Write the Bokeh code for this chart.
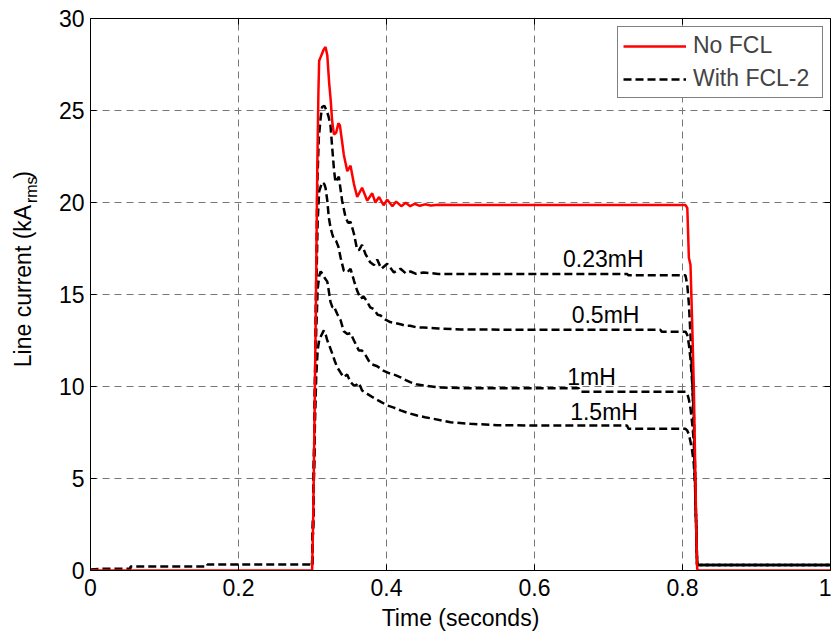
import math
from bokeh.plotting import figure
from bokeh.layouts import row
from bokeh.models import (Range1d, LinearAxis, FixedTicker, Legend, LegendItem,
                          CustomJSTickFormatter, ColumnDataSource)
from bokeh.core.properties import value
from bokeh.embed import file_html
from bokeh.resources import INLINE

# ---------------- data ----------------
t_nofcl = [0, 0.2995, 0.3010, 0.3030, 0.3050, 0.3065, 0.3080, 0.3090, 0.3110, 0.3130, 0.3150,
           0.3176, 0.3200, 0.3225, 0.3245, 0.3266, 0.3290, 0.3320, 0.3350, 0.3370, 0.3400,
           0.3423, 0.3470, 0.3514, 0.3560, 0.3604, 0.3670, 0.3740, 0.3807, 0.3850, 0.3900,
           0.3960, 0.4010, 0.4080, 0.4130, 0.4200, 0.4260, 0.4320, 0.4380, 0.4450, 0.4520,
           0.4600, 0.4700, 0.5000, 0.6000, 0.7000, 0.8041, 0.8065, 0.8086, 0.8108, 0.8131,
           0.8153, 0.8170, 0.8185, 0.8198, 0.8210, 1.0]
i_nofcl = [0, 0, 3, 9, 16, 22, 26.0, 27.7, 27.9, 28.1, 28.3,
           28.45, 28.0, 26.5, 25.6, 24.4, 23.7, 23.8, 24.3, 24.2, 23.3,
           22.6, 21.7, 22.0, 21.0, 20.3, 20.8, 20.1, 20.5, 20.0, 20.3,
           19.85, 20.15, 19.8, 20.05, 19.8, 19.98, 19.8, 19.93, 19.82, 19.9,
           19.84, 19.88, 19.86, 19.86, 19.86, 19.86, 19.7, 17.0, 16.6, 13.4,
           10.0, 6.0, 2.5, 0.1, 0, 0]

t_pre = [0, 0.02, 0.054, 0.054, 0.158, 0.158, 0.2995]
i_pre = [0.05, 0.1, 0.1, 0.22, 0.22, 0.33, 0.33]

t_023 = [0.2995, 0.3010, 0.3030, 0.3050, 0.3065, 0.3085, 0.3110, 0.3130, 0.3160, 0.3190,
         0.3215, 0.3243, 0.3266, 0.3290, 0.3310, 0.3356, 0.3400, 0.3446, 0.3480, 0.3514,
         0.3560, 0.3600, 0.3626, 0.3670, 0.3716, 0.3780, 0.3830, 0.3874, 0.3930, 0.4010,
         0.4100, 0.4190, 0.4260, 0.4324, 0.4400, 0.4500, 0.4700, 0.5000, 0.6000, 0.7250,
         0.7270, 0.8041, 0.8065, 0.8086, 0.8108, 0.8131, 0.8153, 0.8170, 0.8185, 0.8198, 1.0]
i_023 = [0.33, 3, 9, 16, 21, 23.5, 24.6, 25.2, 25.25, 25.0,
         24.7, 24.2, 23.0, 21.8, 21.1, 21.4, 20.1, 19.2, 18.9, 18.95,
         18.3, 17.5, 17.4, 17.7, 17.2, 16.75, 16.6, 16.9, 16.4, 16.67,
         16.2, 16.4, 16.15, 16.25, 16.12, 16.2, 16.12, 16.12, 16.12, 16.12,
         16.04, 16.04, 15.5, 14.5, 12.8, 10.5, 7.5, 4.8, 2.2, 0.3, 0.3]

t_05 = [0.2995, 0.3010, 0.3030, 0.3050, 0.3070, 0.3090, 0.3130, 0.3160, 0.3176, 0.3200,
        0.3220, 0.3245, 0.3266, 0.3290, 0.3320, 0.3350, 0.3380, 0.3423, 0.3470, 0.3514,
        0.3560, 0.3604, 0.3650, 0.3690, 0.3740, 0.3780, 0.3830, 0.3880, 0.3920, 0.3980,
        0.4050, 0.4120, 0.4190, 0.4260, 0.4320, 0.4400, 0.4500, 0.4700, 0.5000, 0.6000,
        0.7700, 0.7720, 0.8041, 0.8065, 0.8086, 0.8108, 0.8131, 0.8153, 0.8170, 0.8185,
        0.8198, 1.0]
i_05 = [0.33, 3, 9, 15, 19, 20.6, 21.1, 21.0, 20.8, 20.1,
        19.2, 18.6, 18.3, 18.0, 17.9, 17.6, 17.0, 16.3, 16.2, 16.4,
        15.76, 15.2, 14.77, 14.9, 14.6, 14.3, 14.2, 13.9, 13.86, 13.65,
        13.5, 13.45, 13.38, 13.3, 13.3, 13.22, 13.2, 13.15, 13.1, 13.08,
        13.08, 12.98, 12.98, 12.8, 12.3, 11.5, 10.2, 8.5, 5.5, 2.6,
        0.3, 0.3]

t_1 = [0.2995, 0.3010, 0.3030, 0.3050, 0.3070, 0.3090, 0.3110, 0.3140, 0.3165, 0.3200,
       0.3220, 0.3243, 0.3270, 0.3290, 0.3333, 0.3380, 0.3423, 0.3470, 0.3514, 0.3560,
       0.3626, 0.3670, 0.3716, 0.3760, 0.3807, 0.3874, 0.3964, 0.4050, 0.4120, 0.4190,
       0.4260, 0.4320, 0.4400, 0.4500, 0.4730, 0.5135, 0.6600, 0.6620, 0.8041, 0.8065,
       0.8086, 0.8108, 0.8131, 0.8153, 0.8170, 0.8185, 0.8198, 1.0]
i_1 = [0.33, 3, 8.5, 13, 15.3, 16.0, 16.25, 16.1, 15.9, 15.7,
       15.2, 14.6, 14.3, 14.35, 13.95, 13.6, 13.0, 12.85, 12.9, 12.5,
       11.96, 11.95, 11.7, 11.4, 11.2, 11.1, 10.85, 10.7, 10.62, 10.5,
       10.35, 10.24, 10.12, 10.05, 9.95, 9.9, 9.9, 9.72, 9.72, 9.6,
       9.3, 8.8, 8.0, 7.0, 5.0, 2.5, 0.3, 0.3]

t_15 = [0.2995, 0.3010, 0.3030, 0.3050, 0.3070, 0.3090, 0.3110, 0.3153, 0.3180, 0.3200,
        0.3230, 0.3266, 0.3300, 0.3333, 0.3380, 0.3423, 0.3468, 0.3514, 0.3560, 0.3600,
        0.3626, 0.3670, 0.3740, 0.3800, 0.3850, 0.3930, 0.4010, 0.4100, 0.4190, 0.4300,
        0.4414, 0.4520, 0.4640, 0.4865, 0.5135, 0.5500, 0.6000, 0.7250, 0.7270, 0.8041,
        0.8065, 0.8086, 0.8108, 0.8131, 0.8153, 0.8170, 0.8185, 0.8198, 1.0]
i_15 = [0.33, 3, 7.5, 10.5, 12.0, 12.5, 12.7, 13.05, 12.8, 12.5,
        12.2, 11.8, 11.4, 11.05, 10.75, 10.5, 10.65, 10.24, 10.05, 10.1,
        10.2, 9.78, 9.6, 9.45, 9.33, 9.15, 8.97, 8.85, 8.7, 8.55,
        8.42, 8.33, 8.24, 8.06, 7.97, 7.9, 7.88, 7.88, 7.7, 7.7,
        7.6, 7.4, 7.0, 6.5, 5.8, 4.5, 2.3, 0.3, 0.3]

curve_labels = ["0.23mH", "0.5mH", "1mH", "1.5mH"]
curve_label_x = [0.693, 0.696, 0.677, 0.694]
curve_label_y = [16.95, 13.86, 10.5, 8.6]

x_ticks = [0, 0.2, 0.4, 0.6, 0.8, 1.0]
x_tick_labels = ["0", "0.2", "0.4", "0.6", "0.8", "1"]
y_ticks = [0, 5, 10, 15, 20, 25, 30]
y_tick_labels = ["0", "5", "10", "15", "20", "25", "30"]

y_title_parts = ["Line current (kA", "rms", ")"]

FONT = "Liberation Sans"
FS = "23px"

TOTAL_W, H = 831, 634
SIDE_W = 40
W = TOTAL_W - SIDE_W
BL, BR, BT, BB = 50, 1, 18, 64

p = figure(width=W, height=H, output_backend="svg", toolbar_location=None,
           x_range=Range1d(0, 1), y_range=Range1d(0, 30),
           min_border_left=BL, min_border_right=BR, min_border_top=BT, min_border_bottom=BB,
           background_fill_color="white", border_fill_color="white")
p.outline_line_color = None

# grid
for g in (p.xgrid, p.ygrid):
    g.grid_line_color = "#777777"
    g.grid_line_dash = "7 5"
    g.grid_line_width = 1
p.xgrid.ticker = FixedTicker(ticks=x_ticks)
p.ygrid.ticker = FixedTicker(ticks=y_ticks)

# axes
xo = {float(k): v for k, v in zip(x_ticks, x_tick_labels)}
yo = {float(k): v for k, v in zip(y_ticks, y_tick_labels)}
for ax, ticks, ov in ((p.xaxis[0], x_ticks, xo), (p.yaxis[0], y_ticks, yo)):
    ax.ticker = FixedTicker(ticks=ticks)
    ax.major_label_overrides = ov
    ax.major_tick_in = 6
    ax.major_tick_out = 0
    ax.minor_tick_line_color = None
    ax.axis_line_color = "black"
    ax.major_tick_line_color = "black"
    ax.major_label_text_font = FONT
    ax.major_label_text_font_size = FS
    ax.major_label_text_color = "black"
p.yaxis[0].major_label_standoff = 6
p.xaxis[0].major_label_standoff = 8
p.xaxis[0].axis_label = "Time (seconds)"
p.xaxis[0].axis_label_text_font = FONT
p.xaxis[0].axis_label_text_font_size = FS
p.xaxis[0].axis_label_text_font_style = "normal"
p.xaxis[0].axis_label_text_color = "black"
p.xaxis[0].axis_label_standoff = 6

blank = CustomJSTickFormatter(code="return ''")
top = LinearAxis(ticker=FixedTicker(ticks=x_ticks), formatter=blank,
                 major_tick_in=6, major_tick_out=0, minor_tick_line_color=None,
                 major_label_standoff=0, axis_line_color="black")
p.add_layout(top, "above")
right = LinearAxis(ticker=FixedTicker(ticks=y_ticks), formatter=blank,
                   major_tick_in=6, major_tick_out=0, minor_tick_line_color=None,
                   major_label_standoff=0, axis_line_color="black")
p.add_layout(right, "right")

# series
pre_src = ColumnDataSource(dict(t=t_pre, i=i_pre))
black_kw = dict(line_color="black", line_width=2.5, line_dash="8 4")
p.line("t", "i", source=pre_src, **black_kw)
rb = []
for tt, ii in ((t_15, i_15), (t_1, i_1), (t_05, i_05), (t_023, i_023)):
    rb.append(p.line(tt, ii, **black_kw))
r_red = p.line(t_nofcl, i_nofcl, line_color="#ff0000", line_width=2.5)

# curve labels
p.text(x=curve_label_x, y=curve_label_y, text=curve_labels,
       text_font=value(FONT), text_font_size=FS, text_align="center",
       text_baseline="middle", text_color="black")

legend = Legend(items=[LegendItem(label="No FCL", renderers=[r_red]),
                       LegendItem(label="With FCL-2", renderers=[rb[-1]])],
                location=(527, 472), orientation="vertical",
                glyph_width=63, glyph_height=26, label_standoff=7,
                padding=5, spacing=6, label_height=26, label_width=124, margin=0,
                label_text_font=FONT, label_text_font_size=FS,
                border_line_color="black", border_line_width=1,
                background_fill_color="white", background_fill_alpha=1.0)
p.add_layout(legend, "center")

# side panel holding the y-axis title (with subscript) as real text
side = figure(width=SIDE_W, height=H, output_backend="svg", toolbar_location=None,
              x_range=Range1d(0, SIDE_W), y_range=Range1d(0, H),
              min_border=0, background_fill_color="white", border_fill_color="white")
side.axis.visible = False
side.grid.visible = False
side.outline_line_color = None
side.text(x=[22], y=[H - 214], text=[y_title_parts[0]], angle=math.pi / 2,
          text_font=value(FONT), text_font_size=FS, text_align="right",
          text_baseline="middle", text_color="black")
side.text(x=[31], y=[H - 212], text=[y_title_parts[1]], angle=math.pi / 2,
          text_font=value(FONT), text_font_size="16px", text_align="left",
          text_baseline="middle", text_color="black")
side.text(x=[22], y=[H - 184], text=[y_title_parts[2]], angle=math.pi / 2,
          text_font=value(FONT), text_font_size=FS, text_align="left",
          text_baseline="middle", text_color="black")

layout = row(side, p, spacing=0)
open("out.html", "w").write(file_html(layout, INLINE))
